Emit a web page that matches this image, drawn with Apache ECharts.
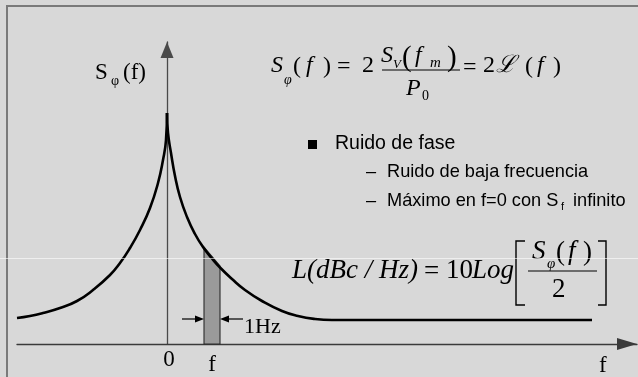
<!DOCTYPE html>
<html>
<head>
<meta charset="utf-8">
<script src="https://cdn.jsdelivr.net/npm/echarts@6/dist/echarts.min.js"></script>
<style>
  html, body { margin: 0; padding: 0; background: #d8d8d8; }
  #chart { width: 638px; height: 377px; }
</style>
</head>
<body>
<div id="chart"></div>
<script>
// Phase-noise spectrum S_phi(f): symmetric peak at f = 0 falling to a flat floor.
// Units are arbitrary (frequency offset on x, spectral density on y).
const leftX  = [-1.50, -1.37, -1.24, -1.07, -0.90, -0.74, -0.57, -0.47, -0.37, -0.27, -0.17, -0.09, -0.04, -0.01, 0.00];
const leftY  = [ 0.26,  0.28,  0.31,  0.36,  0.43,  0.54,  0.69,  0.81,  0.96,  1.14,  1.36,  1.61,  1.84,  2.04, 2.31];
const rightX = [0.00, 0.01, 0.04, 0.08, 0.13, 0.20, 0.28, 0.36, 0.45, 0.53, 0.65, 0.78, 0.95, 1.15, 1.31, 1.48, 1.65, 4.25];
const rightY = [2.31, 2.11, 1.91, 1.68, 1.47, 1.27, 1.10, 0.97, 0.855, 0.765, 0.65, 0.54, 0.43, 0.33, 0.28, 0.25, 0.24, 0.24];

// 1 Hz measurement strip at offset f
const bandX   = [0.37, 0.53];
const bandTop = [0.97, 0.78];

// dimension arrows marking the 1 Hz width: [tail x, tip x, y]
const dimArrows = [[0.15, 0.37, 0.25], [0.76, 0.53, 0.25]];
const dimLabel = '1Hz';

// x-axis tick positions and their labels
const tickValues = [0, 0.45];
const tickLabels = ['0', 'f'];

const SERIF = '"Liberation Serif", "Times New Roman", serif';
const SANS = '"Liberation Sans", Arial, sans-serif';

function txt(x, y, text, size, italic, family) {
  return {
    type: 'text', x: x, y: y, silent: true, z: 20,
    style: {
      text: text,
      font: (italic ? 'italic ' : '') + size + 'px ' + (family || SERIF),
      fill: '#000', align: 'left', verticalAlign: 'middle'
    }
  };
}
function seg(x1, y1, x2, y2, w) {
  return { type: 'line', silent: true, z: 20,
    shape: { x1: x1, y1: y1, x2: x2, y2: y2 },
    style: { stroke: '#000', lineWidth: w || 1 } };
}
function poly(points, w) {
  return { type: 'polyline', silent: true, z: 20,
    shape: { points: points },
    style: { stroke: '#000', lineWidth: w || 1.4, fill: null } };
}

const graphics = [
  // frame
  { type: 'rect', silent: true, z: 1, shape: { x: 7, y: 6, width: 700, height: 500 },
    style: { fill: null, stroke: '#7a7a7a', lineWidth: 2 } },
  { type: 'line', silent: true, z: 30, shape: { x1: 0, y1: 258.5, x2: 638, y2: 258.5 },
    style: { stroke: 'rgba(255,255,255,0.6)', lineWidth: 1 } },

  // y-axis title S_phi(f)
  txt(95, 73, 'S', 23), txt(111, 81, 'φ', 14), txt(123, 73, '(f)', 23),
  // x-axis title
  txt(599, 366, 'f', 23),

  // S_phi(f) = 2 S_V(f_m)/P_0 = 2 L(f)
  txt(271, 66, 'S', 24, true), txt(284, 80, 'φ', 14, true),
  txt(293, 67, '(', 24), txt(306, 66, 'f', 24, true), txt(323, 67, ')', 24),
  txt(337, 67, '=', 24), txt(362, 66, '2', 24),
  txt(381, 56, 'S', 24, true), txt(393, 65, 'V', 13, true),
  txt(402, 58, '(', 29), txt(415, 56, 'f', 24, true), txt(430, 63, 'm', 15, true), txt(447, 58, ')', 29),
  seg(382, 70, 460, 70, 1.2),
  txt(406, 89, 'P', 24, true), txt(422, 96, '0', 14),
  txt(463, 68, '=', 24), txt(483, 66, '2', 24), txt(496, 66, 'ℒ', 24, true),
  txt(525, 67, '(', 24), txt(537, 66, 'f', 24, true), txt(553, 67, ')', 24),

  // bullet list
  { type: 'rect', silent: true, z: 20, shape: { x: 308, y: 140, width: 9, height: 9 }, style: { fill: '#000' } },
  txt(335, 144, 'Ruido de fase', 19.5, false, SANS),
  txt(366, 172, '–', 18.2, false, SANS), txt(387, 172, 'Ruido de baja frecuencia', 18.2, false, SANS),
  txt(366, 201, '–', 18.2, false, SANS), txt(387, 201, 'Máximo en f=0 con S', 18.2, false, SANS),
  txt(561, 207, 'f', 11, false, SANS), txt(573, 201, 'infinito', 18.2, false, SANS),

  // L(dBc/Hz) = 10 Log[S_phi(f)/2]
  txt(292, 271, 'L(dBc / Hz)', 27, true), txt(424, 272, '=', 27), txt(446, 271, '10', 27),
  txt(472, 271, 'Log', 27, true),
  poly([[525, 241], [516, 241], [516, 305], [525, 305]]),
  poly([[598, 241], [606, 241], [606, 305], [598, 305]]),
  txt(532, 252, 'S', 27, true), txt(547, 264, 'φ', 15, true),
  txt(556, 253, '(', 27), txt(568, 252, 'f', 27, true), txt(583, 253, ')', 27),
  seg(528, 271, 597, 271, 1.2),
  txt(552, 290, '2', 27)
];

const chart = echarts.init(document.getElementById('chart'), null, { renderer: 'canvas' });

const curveStyle = {
  type: 'line', z: 3, clip: false, smooth: 0.5, symbol: 'none',
  lineStyle: { color: '#000', width: 2.6 }
};

chart.setOption({
  backgroundColor: '#d8d8d8',
  animation: false,
  grid: { left: 17, right: 1, top: 42, bottom: 33, containLabel: false },
  xAxis: {
    type: 'value', min: -1.5, max: 4.7,
    splitLine: { show: false },
    axisTick: { show: false },
    axisLine: {
      lineStyle: { color: '#3a3a3a', width: 1.3 },
      symbol: ['none', 'triangle'], symbolSize: [12, 20], symbolOffset: [0, -10]
    },
    axisLabel: {
      customValues: tickValues,
      margin: 4,
      formatter: function (v) {
        const i = tickValues.findIndex(t => Math.abs(t - v) < 1e-6);
        const s = i >= 0 ? tickLabels[i] : '';
        return s === '0' ? '{z|' + s + '}' : '{f|' + s + '}';
      },
      rich: {
        z: { fontFamily: SERIF, fontSize: 23, color: '#000', padding: [0, 0, 0, 4] },
        f: { fontFamily: SERIF, fontSize: 23, color: '#000', padding: [5, 0, 0, 0] }
      }
    }
  },
  yAxis: {
    type: 'value', min: 0, max: 3.02,
    splitLine: { show: false },
    axisTick: { show: false },
    axisLabel: { show: false },
    axisLine: {
      onZero: true,
      lineStyle: { color: '#4a4a4a', width: 1.3 },
      symbol: ['none', 'triangle'], symbolSize: [13, 16], symbolOffset: [0, -8]
    }
  },
  graphic: graphics,
  series: [
    {
      type: 'custom',
      z: 2,
      clip: false,
      data: [[bandX[0], bandX[1], bandTop[0], bandTop[1]]],
      encode: { x: [0, 1], y: [2, 3] },
      renderItem: function (params, api) {
        const a = api.coord([api.value(0), 0]);
        const b = api.coord([api.value(0), api.value(2)]);
        const c = api.coord([api.value(1), api.value(3)]);
        const d = api.coord([api.value(1), 0]);
        return {
          type: 'polygon',
          shape: { points: [a, b, c, d] },
          style: { fill: '#9a9a9a', stroke: '#2a2a2a', lineWidth: 1.1 }
        };
      }
    },
    Object.assign({ data: leftX.map((x, i) => [x, leftY[i]]) }, curveStyle),
    Object.assign({ data: rightX.map((x, i) => [x, rightY[i]]) }, curveStyle),
    {
      type: 'custom',
      z: 4,
      clip: false,
      data: dimArrows,
      encode: { x: [0, 1], y: 2 },
      renderItem: function (params, api) {
        const tail = api.coord([api.value(0), api.value(2)]);
        const tip = api.coord([api.value(1), api.value(2)]);
        const dir = tip[0] > tail[0] ? 1 : -1;
        const head = 9, half = 3.6;
        const children = [
          { type: 'line', shape: { x1: tail[0], y1: tail[1], x2: tip[0] - dir * head, y2: tip[1] },
            style: { stroke: '#000', lineWidth: 1.2 } },
          { type: 'polygon',
            shape: { points: [[tip[0], tip[1]], [tip[0] - dir * head, tip[1] - half], [tip[0] - dir * head, tip[1] + half]] },
            style: { fill: '#000' } }
        ];
        if (params.dataIndex === 1) {
          children.push({
            type: 'text', x: tail[0] + 1, y: tail[1] + 8,
            style: { text: dimLabel, font: '22px ' + SERIF, fill: '#000', align: 'left', verticalAlign: 'middle' }
          });
        }
        return { type: 'group', children: children };
      }
    }
  ]
});
</script>
</body>
</html>
